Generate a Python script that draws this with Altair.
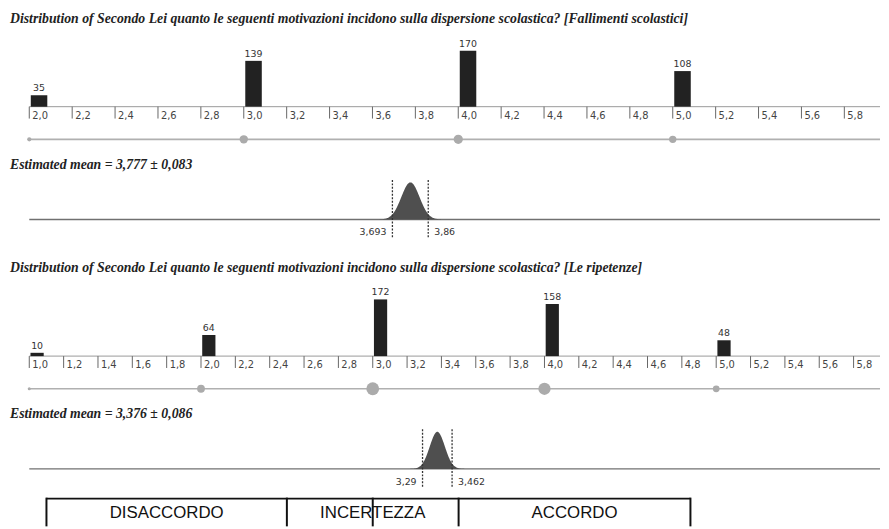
import altair as alt
import pandas as pd

# ---------------- data ----------------
titles = [
    "Distribution of Secondo Lei quanto le seguenti motivazioni incidono sulla dispersione scolastica? [Fallimenti scolastici]",
    "Distribution of Secondo Lei quanto le seguenti motivazioni incidono sulla dispersione scolastica? [Le ripetenze]",
]
scores_q1 = [2.0, 3.0, 4.0, 5.0]
counts_q1 = [35, 139, 170, 108]
scores_q2 = [1.0, 2.0, 3.0, 4.0, 5.0]
counts_q2 = [10, 64, 172, 158, 48]
ticks_q1 = [2.0, 2.2, 2.4, 2.6, 2.8, 3.0, 3.2, 3.4, 3.6, 3.8,
            4.0, 4.2, 4.4, 4.6, 4.8, 5.0, 5.2, 5.4, 5.6, 5.8]
ticks_q2 = [1.0, 1.2, 1.4, 1.6, 1.8, 2.0, 2.2, 2.4, 2.6, 2.8, 3.0, 3.2, 3.4, 3.6, 3.8,
            4.0, 4.2, 4.4, 4.6, 4.8, 5.0, 5.2, 5.4, 5.6, 5.8]
means = [3.777, 3.376]
margins = [0.083, 0.086]
ci_low = [3.693, 3.29]
ci_high = [3.86, 3.462]
zone_bounds = [1.1, 2.5, 3.5, 4.85]
zone_mid_divider = 3.0
zone_labels = ["DISACCORDO", "INCERTEZZA", "ACCORDO"]

# ---------------- layout / style constants ----------------
W = 881
ORIGIN = 21.5
PPU = [216.7, 173.5]
X_END = 6.0
K = 0.333            # px per count
BAR_OFF, BAR_W = 0.007, 0.077
SIZE_MAX = [88, 167]
SERIF = "Liberation Serif"
SANS = "DejaVu Sans"
TITLE_SIZE = 13.9
BOX_TOP = 241
BOX_TEXT_Y = 256


def fmt(v):
    return str(v).replace(".", ",")


def block(i, scores, counts, ticks, height, extra=None):
    start = ticks[0]
    xs = alt.Scale(domain=[start, X_END], range=[ORIGIN, ORIGIN + (X_END - start) * PPU[i]],
                   nice=False, zero=False)
    ys_bar = alt.Scale(domain=[0, 180], range=[97, 97 - 180 * K], nice=False, zero=False)

    df = pd.DataFrame({"score": scores, "count": counts})
    tdf = pd.DataFrame({"t": ticks, "label": [fmt(f"{t:.1f}") for t in ticks]})
    sdf = pd.DataFrame({"x": [start]})

    title = alt.Chart(pd.DataFrame({"txt": [titles[i]]})).mark_text(
        align="left", baseline="middle", font=SERIF, fontStyle="italic", fontWeight="bold",
        fontSize=TITLE_SIZE, color="#222").encode(x=alt.value(2), y=alt.value(8.5), text="txt:N")

    bars = alt.Chart(df).transform_calculate(
        x0=f"datum.score + {BAR_OFF}", x1=f"datum.score + {BAR_OFF + BAR_W}"
    ).mark_rect(color="#222").encode(
        x=alt.X("x0:Q", scale=xs, axis=None), x2="x1:Q",
        y=alt.Y("count:Q", scale=ys_bar, axis=None), y2=alt.datum(0))

    blabels = alt.Chart(df).transform_calculate(
        xc=f"datum.score + {BAR_OFF + BAR_W / 2}"
    ).mark_text(baseline="alphabetic", dy=-4, font=SANS, fontSize=9.5, color="#333").encode(
        x=alt.X("xc:Q", scale=xs, axis=None),
        y=alt.Y("count:Q", scale=ys_bar, axis=None), text="count:Q")

    axis_line = alt.Chart(sdf).mark_rule(color="#9a9a9a", strokeWidth=1).encode(
        x=alt.X("x:Q", scale=xs, axis=None), x2=alt.value("width"), y=alt.value(97))
    tick_marks = alt.Chart(tdf).mark_rule(color="#666", strokeWidth=1).encode(
        x=alt.X("t:Q", scale=xs, axis=None), y=alt.value(97), y2=alt.value(109))
    tick_labels = alt.Chart(tdf).mark_text(align="left", baseline="middle", dx=3, font=SANS,
                                           fontSize=10, color="#444").encode(
        x=alt.X("t:Q", scale=xs, axis=None), y=alt.value(106), text="label:N")

    dot_line = alt.Chart(sdf).mark_rule(color="#b0b0b0", strokeWidth=1.6).encode(
        x=alt.X("x:Q", scale=xs, axis=None), x2=alt.value("width"), y=alt.value(130))
    dots = alt.Chart(df).mark_circle(color="#ababab", opacity=1).encode(
        x=alt.X("score:Q", scale=xs, axis=None), y=alt.value(130),
        size=alt.Size("count:Q", scale=alt.Scale(domain=[0, max(counts)], range=[0, SIZE_MAX[i]]),
                      legend=None))

    est = alt.Chart(pd.DataFrame({"txt": [f"Estimated mean = {fmt(means[i])} ± {fmt(margins[i])}"]})).mark_text(
        align="left", baseline="middle", font=SERIF, fontStyle="italic", fontWeight="bold",
        fontSize=TITLE_SIZE, color="#222").encode(x=alt.value(2), y=alt.value(156), text="txt:N")

    m, sd = means[i], margins[i] / 1.96
    base_line = alt.Chart(sdf).mark_rule(color="#707070", strokeWidth=1.3).encode(
        x=alt.X("x:Q", scale=xs, axis=None), x2=alt.value("width"), y=alt.value(211))
    gauss = alt.Chart(alt.sequence(-4, 4.001, 0.05, as_="z")).transform_calculate(
        gx=f"{m} + datum.z * {sd}", gd="exp(-0.5 * datum.z * datum.z)"
    ).mark_area(color="#4f4f4f").encode(
        x=alt.X("gx:Q", scale=xs, axis=None),
        y=alt.Y("gd:Q", scale=alt.Scale(domain=[0, 1], range=[211, 211 - 37.5], nice=False), axis=None))

    cdf = pd.DataFrame({"x": [ci_low[i], ci_high[i]]})
    ci_rules = alt.Chart(cdf).mark_rule(color="#333", strokeWidth=1.3, strokeDash=[2, 1.5]).encode(
        x=alt.X("x:Q", scale=xs, axis=None), y=alt.value(171), y2=alt.value(230))
    lo_lab = alt.Chart(pd.DataFrame({"x": [ci_low[i]], "l": [fmt(ci_low[i])]})).mark_text(
        align="right", baseline="middle", dx=-6, font=SANS, fontSize=9.5, color="#333").encode(
        x=alt.X("x:Q", scale=xs, axis=None), y=alt.value(224), text="l:N")
    hi_lab = alt.Chart(pd.DataFrame({"x": [ci_high[i]], "l": [fmt(ci_high[i])]})).mark_text(
        align="left", baseline="middle", dx=6, font=SANS, fontSize=9.5, color="#333").encode(
        x=alt.X("x:Q", scale=xs, axis=None), y=alt.value(224), text="l:N")

    layers = [title, axis_line, tick_marks, tick_labels, bars, blabels, dot_line, dots, est,
              base_line, gauss, ci_rules, lo_lab, hi_lab]

    if extra:
        edges = pd.DataFrame({"x": zone_bounds[:2] + [zone_mid_divider] + zone_bounds[2:]})
        top = alt.Chart(pd.DataFrame({"a": [zone_bounds[0]], "b": [zone_bounds[-1]]})).mark_rule(
            color="#111", strokeWidth=2).encode(
            x=alt.X("a:Q", scale=xs, axis=None), x2="b:Q", y=alt.value(BOX_TOP))
        verts = alt.Chart(edges).mark_rule(color="#111", strokeWidth=2).encode(
            x=alt.X("x:Q", scale=xs, axis=None), y=alt.value(BOX_TOP - 1), y2=alt.value("height"))
        mids = [(zone_bounds[j] + zone_bounds[j + 1]) / 2 for j in range(3)]
        ztext = alt.Chart(pd.DataFrame({"x": mids, "l": zone_labels})).mark_text(
            align="center", baseline="middle", font="Liberation Sans", fontSize=17, color="#111").encode(
            x=alt.X("x:Q", scale=xs, axis=None), y=alt.value(BOX_TEXT_Y), text="l:N")
        layers += [top, verts, ztext]

    return alt.layer(*layers).resolve_scale(y="independent").properties(width=W, height=height)


b1 = block(0, scores_q1, counts_q1, ticks_q1, 252)
b2 = block(1, scores_q2, counts_q2, ticks_q2, 269, extra=True)

chart = alt.vconcat(b1, b2, spacing=0, bounds="flush", padding=0).resolve_scale(
    x="independent", y="independent", size="independent"
).configure(background="white").configure_view(stroke=None, strokeWidth=0)

chart.save("out.html", embed_options={"renderer": "svg", "actions": False})
